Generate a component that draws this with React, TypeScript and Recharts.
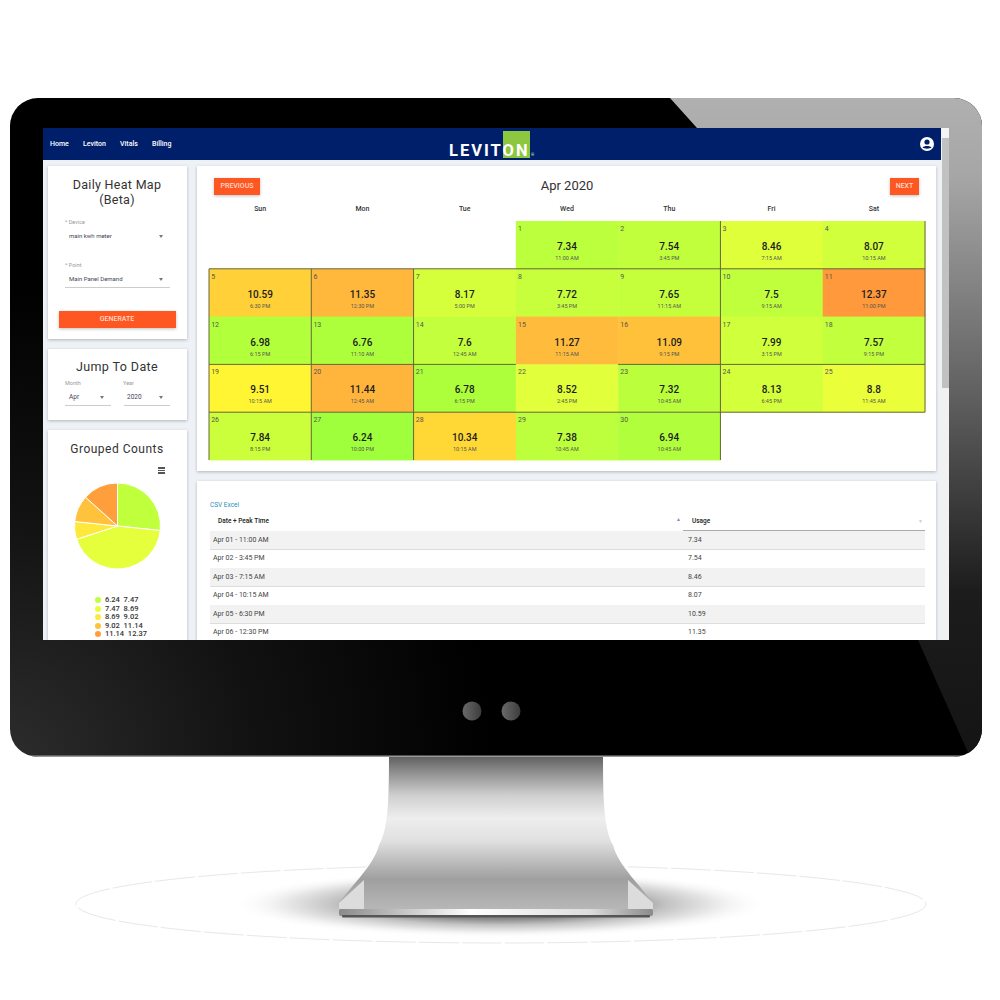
import React from 'react';
import {
  ScatterChart,
  Scatter,
  XAxis,
  YAxis,
  ReferenceLine,
  PieChart,
  Pie,
  Legend,
} from 'recharts';

const weekDays = ['Sun', 'Mon', 'Tue', 'Wed', 'Thu', 'Fri', 'Sat'];
const usage = [
  7.34, 7.54, 8.46, 8.07, 10.59, 11.35, 8.17, 7.72, 7.65, 7.5, 12.37, 6.98, 6.76, 7.6, 11.27,
  11.09, 7.99, 7.57, 9.51, 11.44, 6.78, 8.52, 7.32, 8.13, 8.8, 7.84, 6.24, 10.34, 7.38, 6.94,
];
const peakTimes = [
  '11:00 AM', '3:45 PM', '7:15 AM', '10:15 AM', '6:30 PM', '12:30 PM', '5:00 PM', '3:45 PM',
  '11:15 AM', '9:15 AM', '11:00 PM', '6:15 PM', '11:10 AM', '12:45 AM', '11:15 AM', '9:15 PM',
  '3:15 PM', '9:15 PM', '10:15 AM', '12:45 AM', '6:15 PM', '2:45 PM', '10:45 AM', '6:45 PM',
  '11:45 AM', '8:15 PM', '10:00 PM', '10:15 AM', '10:45 AM', '10:45 AM',
];
const firstWeekday = 3;

const rangeLabels = ['6.24  7.47', '7.47  8.69', '8.69  9.02', '9.02  11.14', '11.14  12.37'];
const rangeCounts = [8, 13, 2, 3, 4];
const rangeColors = ['#c0ff3c', '#e6ff3c', '#ffe83c', '#ffc23c', '#ff9f3c'];

const tableRows = 6;
const navItems = ['Home', 'Leviton', 'Vitals', 'Billing'];

// borders the source calendar happens to draw, in grid units
const gridSegments = [
  [0, 1, 7, 1],
  [0, 3, 3, 3],
  [4, 3, 7, 3],
  [0, 4, 7, 4],
  [0, 1, 0, 5],
  [1, 1, 1, 5],
  [2, 1, 2, 5],
  [5, 0, 5, 5],
  [7, 0, 7, 4],
];

const colorStops: [number, number[]][] = [
  [6.24, [159, 255, 60]],
  [7.5, [192, 255, 60]],
  [8.8, [234, 255, 58]],
  [9.51, [255, 245, 51]],
  [10.34, [255, 216, 54]],
  [11.35, [255, 184, 60]],
  [12.37, [255, 153, 60]],
];

const heatColor = (v: number) => {
  for (let i = 1; i < colorStops.length; i++) {
    const [v0, c0] = colorStops[i - 1];
    const [v1, c1] = colorStops[i];
    if (v <= v1) {
      const t = (v - v0) / (v1 - v0);
      return `rgb(${c0.map((c, k) => Math.round(c + (c1[k] - c) * t)).join(',')})`;
    }
  }
  return 'rgb(255,153,60)';
};

const calendar = usage.map((value, i) => ({
  day: i + 1,
  value,
  time: peakTimes[i],
  col: (i + firstWeekday) % 7 + 0.5,
  row: Math.floor((i + firstWeekday) / 7) + 0.5,
}));

const groups = rangeLabels.map((name, i) => ({ name, count: rangeCounts[i], fill: rangeColors[i] }));

const pad = (n: number) => (n < 10 ? `0${n}` : `${n}`);

const FONT = 'Roboto, sans-serif';
const CELL_W = 102.3;
const CELL_H = 47.8;

const HeatCell = (props: any) => {
  const { cx, cy, payload } = props;
  return (
    <g>
      <rect
        x={cx - CELL_W / 2}
        y={cy - CELL_H / 2}
        width={CELL_W + 0.4}
        height={CELL_H + 0.4}
        fill={heatColor(payload.value)}
      />
      <text x={cx - 49} y={cy - 14} fontSize={7} fill="#555" fontFamily={FONT}>
        {payload.day}
      </text>
      <text x={cx} y={cy + 5} fontSize={10} fontWeight={500} fill="#1c1c1c" textAnchor="middle" fontFamily={FONT}>
        {payload.value}
      </text>
      <text x={cx} y={cy + 15} fontSize={5.5} fill="#555" textAnchor="middle" fontFamily={FONT}>
        {payload.time}
      </text>
    </g>
  );
};

const Txt = ({ x, y, size = 7, color = '#333', center, weight, spacing, children }: any) => (
  <div
    style={{
      position: 'absolute',
      left: x,
      top: y,
      transform: `translate(${center ? '-50%' : '0'}, -50%)`,
      fontSize: size,
      color,
      fontWeight: weight,
      letterSpacing: spacing,
      whiteSpace: 'nowrap',
      lineHeight: 1,
    }}
  >
    {children}
  </div>
);

const Box = ({ x, y, w, h, bg = '#fff', shadow, children }: any) => (
  <div
    style={{
      position: 'absolute',
      left: x,
      top: y,
      width: w,
      height: h,
      background: bg,
      boxShadow: shadow ? '0 1px 3px rgba(0,0,0,0.25)' : undefined,
    }}
  >
    {children}
  </div>
);

const Caret = ({ x, y }: any) => (
  <div
    style={{
      position: 'absolute',
      left: x - 2.5,
      top: y - 1,
      width: 0,
      height: 0,
      borderLeft: '2.5px solid transparent',
      borderRight: '2.5px solid transparent',
      borderTop: '3px solid #777',
    }}
  />
);

const Monitor = () => (
  <svg width={1000} height={1000} style={{ position: 'absolute', left: 0, top: 0 }}>
    <defs>
      <radialGradient id="bezel" gradientUnits="userSpaceOnUse" cx={10} cy={757} r={480}>
        <stop offset="0" stopColor="#2c2c2c" />
        <stop offset="0.5" stopColor="#121212" />
        <stop offset="1" stopColor="#000" />
      </radialGradient>
      <linearGradient id="wedge" gradientUnits="userSpaceOnUse" x1={0} y1={98} x2={0} y2={757}>
        <stop offset="0" stopColor="#b0b0b0" />
        <stop offset="0.12" stopColor="#a6a6a6" />
        <stop offset="0.45" stopColor="#606060" />
        <stop offset="0.75" stopColor="#1c1c1c" />
        <stop offset="1" stopColor="#141414" />
      </linearGradient>
      <linearGradient id="neck" x1="0" y1="0" x2="0" y2="1">
        <stop offset="0" stopColor="#616161" />
        <stop offset="0.1" stopColor="#8f8f8f" />
        <stop offset="0.25" stopColor="#cfcfcf" />
        <stop offset="0.4" stopColor="#eeeeee" />
        <stop offset="0.55" stopColor="#e0e0e0" />
        <stop offset="0.68" stopColor="#bdbdbd" />
        <stop offset="0.8" stopColor="#9f9f9f" />
        <stop offset="1" stopColor="#b8b8b8" />
      </linearGradient>
      <linearGradient id="base" x1="0" y1="0" x2="1" y2="0">
        <stop offset="0" stopColor="#8a8a8a" />
        <stop offset="0.2" stopColor="#c4c4c4" />
        <stop offset="0.42" stopColor="#ffffff" />
        <stop offset="0.8" stopColor="#dcdcdc" />
        <stop offset="1" stopColor="#8a8a8a" />
      </linearGradient>
      <radialGradient id="floor">
        <stop offset="0" stopColor="#666" />
        <stop offset="0.45" stopColor="#8c8c8c" />
        <stop offset="0.62" stopColor="#c4c4c4" />
        <stop offset="0.82" stopColor="#eeeeee" />
        <stop offset="1" stopColor="#fff" stopOpacity="0" />
      </radialGradient>
      <linearGradient id="button" x1="0" y1="0" x2="1" y2="0">
        <stop offset="0" stopColor="#6a6a6a" />
        <stop offset="1" stopColor="#3c3c3c" />
      </linearGradient>
      <clipPath id="bezelClip">
        <rect x={10} y={98} width={972} height={659} rx={28} />
      </clipPath>
    </defs>
    <ellipse cx={501} cy={904} rx={425} ry={39} fill="none" stroke="#ddd" strokeWidth={0.7} strokeDasharray="40 3" />
    <ellipse cx={500} cy={904} rx={270} ry={34} fill="url(#floor)" />
    <path
      d="M389 757 H603 C603 800 604 830 613 845 C618 865 640 885 653 903 L653 910 H339 L339 903 C352 885 374 865 379 845 C388 830 389 800 389 757 Z"
      fill="url(#neck)"
    />
    <path d="M364 880 L339 903 V909 H364 Z" fill="#dcdcdc" />
    <path d="M628 880 L653 903 V909 H628 Z" fill="#dcdcdc" />
    <rect x={339} y={909} width={314} height={7} rx={2} fill="url(#base)" />
    <rect x={342} y={915} width={308} height={2.5} rx={1} fill="#555" />
    <g clipPath="url(#bezelClip)">
      <rect x={10} y={98} width={972} height={659} fill="url(#bezel)" />
      <polygon points="670,98 982,98 982,757 970,757 918,640 697,128" fill="url(#wedge)" />
      <rect x={10} y={755.5} width={972} height={1.5} fill="#999" />
    </g>
    <circle cx={472} cy={711} r={9.5} fill="url(#button)" />
    <circle cx={511} cy={711} r={9.5} fill="url(#button)" />
  </svg>
);

const Heatmap = () => (
  <div style={{ position: 'absolute', left: 207, top: 201 }}>
    <ScatterChart width={722} height={261} margin={{ top: 0, right: 4, bottom: 2, left: 2 }}>
      <XAxis
        xAxisId={0}
        type="number"
        dataKey="col"
        orientation="top"
        height={20}
        domain={[0, 7]}
        ticks={weekDays.map((_, i) => i + 0.5)}
        tickFormatter={(v: number) => weekDays[Math.floor(v)]}
        tickLine={false}
        axisLine={false}
        interval={0}
        dy={-2}
        tick={{ fontSize: 7, fontWeight: 500, fill: '#333', fontFamily: FONT }}
      />
      <YAxis yAxisId={0} type="number" dataKey="row" domain={[0, 5]} reversed hide width={0} />
      <Scatter data={calendar} shape={<HeatCell />} isAnimationActive={false} />
      {gridSegments.map(([x1, y1, x2, y2], i) => (
        <ReferenceLine
          key={i}
          segment={[
            { x: x1, y: y1 },
            { x: x2, y: y2 },
          ]}
          stroke="#66663e"
          strokeWidth={1}
          ifOverflow="visible"
          zIndex={700}
        />
      ))}
    </ScatterChart>
  </div>
);

const GroupedPie = () => (
  <div style={{ position: 'absolute', left: 48, top: 466 }}>
    <PieChart width={140} height={180} margin={{ top: 0, right: 0, bottom: 0, left: 0 }}>
      <Pie
        data={groups}
        dataKey="count"
        nameKey="name"
        cx={69.5}
        cy={60}
        outerRadius={43}
        startAngle={90}
        endAngle={-270}
        stroke="#fff"
        strokeWidth={1}
        isAnimationActive={false}
      />
      <Legend
        layout="vertical"
        align="center"
        verticalAlign="middle"
        iconType="circle"
        iconSize={6}
        itemSorter={null}
        wrapperStyle={{ left: 47, top: 130, width: 90, fontSize: 7.5, lineHeight: '8.6px', fontWeight: 500 }}
        formatter={(v: string) => <span style={{ color: '#333', whiteSpace: 'pre' }}>{v}</span>}
      />
    </PieChart>
  </div>
);

export default function App() {
  return (
    <div
      style={{
        position: 'absolute',
        left: 0,
        top: 0,
        width: 1000,
        height: 1000,
        background: '#fff',
        overflow: 'hidden',
        fontFamily: FONT,
      }}
    >
      <Monitor />
      <div style={{ position: 'absolute', left: 43, top: 128, width: 906, height: 512, overflow: 'hidden', background: '#eef1f5' }}>
        <div style={{ position: 'absolute', left: -43, top: -128, width: 1000, height: 1000 }}>
          {/* navbar */}
          <Box x={43} y={128} w={898} h={32} bg="#001f6b" />
          {navItems.map((n, i) => (
            <Txt key={n} x={[50, 83, 120, 152][i]} y={144} size={7} color="#fff" weight={500}>
              {n}
            </Txt>
          ))}
          <Box x={503} y={131} w={27} h={27} bg="#8dc63f" />
          <Txt x={449} y={151} size={16.5} color="#fff" weight={700} spacing={2}>
            LEVITON
          </Txt>
          <Txt x={531} y={155} size={4} color="#dfe">
            ®
          </Txt>
          <svg width={16} height={16} style={{ position: 'absolute', left: 919, top: 136 }} viewBox="0 0 16 16">
            <circle cx={8} cy={8} r={7} fill="#fff" />
            <circle cx={8} cy={6} r={2.6} fill="#001f6b" />
            <path d="M3.5 11.5 C5 9.5 11 9.5 12.5 11.5 C11 13 5 13 3.5 11.5 Z" fill="#001f6b" />
          </svg>

          {/* scrollbar */}
          <Box x={941} y={128} w={8} h={512} bg="#f1f1f1" />
          <Box x={942} y={138} w={7} h={250} bg="#c1c1c1" />
          <Box x={942} y={128} w={7} h={9} bg="#f4f4f4" />

          {/* side cards */}
          <Box x={48} y={166} w={139} h={173} shadow />
          <Txt x={117} y={185} size={12.5} color="#333" center spacing={0.3}>
            Daily Heat Map
          </Txt>
          <Txt x={117} y={200} size={12.5} color="#333" center spacing={0.3}>
            (Beta)
          </Txt>
          <Txt x={65} y={223} size={5.5} color="#999">
            * Device
          </Txt>
          <Txt x={69} y={236} size={6} color="#445">
            main kwh meter
          </Txt>
          <Caret x={161} y={236} />
          <Txt x={65} y={266} size={5.5} color="#999">
            * Point
          </Txt>
          <Txt x={69} y={279} size={6} color="#445">
            Main Panel Demand
          </Txt>
          <Caret x={161} y={279} />
          <Box x={65} y={287} w={105} h={1} bg="#ccc" />
          <Box x={59} y={311} w={117} h={17} bg="#ff5722" shadow />
          <Txt x={117} y={319} size={7} color="#ffd9c8" center weight={500}>
            GENERATE
          </Txt>

          <Box x={48} y={349} w={139} h={71} shadow />
          <Txt x={117} y={367} size={12.5} color="#333" center spacing={0.4}>
            Jump To Date
          </Txt>
          <Txt x={65} y={384} size={5.5} color="#999">
            Month
          </Txt>
          <Txt x={123} y={384} size={5.5} color="#999">
            Year
          </Txt>
          <Txt x={69} y={397} size={6.5} color="#445">
            Apr
          </Txt>
          <Txt x={127} y={397} size={6.5} color="#445">
            2020
          </Txt>
          <Caret x={102} y={397} />
          <Caret x={161} y={397} />
          <Box x={65} y={405} w={46} h={1} bg="#ccc" />
          <Box x={124} y={405} w={46} h={1} bg="#ccc" />

          <Box x={48} y={430} w={139} h={220} shadow />
          <Txt x={117} y={449} size={12} color="#333" center spacing={0.5}>
            Grouped Counts
          </Txt>
          <Box x={158} y={467} w={7} h={1.5} bg="#555" />
          <Box x={158} y={469.5} w={7} h={1.5} bg="#555" />
          <Box x={158} y={472} w={7} h={1.5} bg="#555" />
          <GroupedPie />

          {/* calendar card */}
          <Box x={197} y={166} w={739} h={305} shadow />
          <Box x={214} y={178} w={46} h={17} bg="#ff5722" shadow />
          <Txt x={237} y={186} size={7} color="#ffd9c8" center weight={500}>
            PREVIOUS
          </Txt>
          <Box x={890} y={178} w={29} h={17} bg="#ff5722" shadow />
          <Txt x={904.5} y={186} size={7} color="#ffd9c8" center weight={500}>
            NEXT
          </Txt>
          <Txt x={567} y={185} size={13} color="#333" center>
            Apr 2020
          </Txt>
          <Heatmap />

          {/* table card */}
          <Box x={197} y={481} w={739} h={170} shadow />
          <Txt x={210} y={505} size={6.5} color="#2a8fc0">
            CSV Excel
          </Txt>
          <Txt x={218} y={521} size={6.5} color="#222" weight={500}>
            Date + Peak Time
          </Txt>
          <Txt x={692} y={521} size={6.5} color="#222" weight={500}>
            Usage
          </Txt>
          <Txt x={676} y={519} size={5} color="#8a8ac0">
            ▲
          </Txt>
          <Txt x={918} y={521} size={5} color="#ccc">
            ▼
          </Txt>
          {usage.slice(0, tableRows).map((v, i) => (
            <React.Fragment key={i}>
              <Box x={210} y={531 + i * 18.6} w={715} h={18} bg={i % 2 === 0 ? '#f2f2f2' : '#fff'} />
              <Box x={210} y={549 + i * 18.6} w={715} h={0.7} bg="#ddd" />
              <Txt x={213} y={539.5 + i * 18.5} size={7} color="#444">
                {`Apr ${pad(i + 1)} - ${peakTimes[i]}`}
              </Txt>
              <Txt x={688} y={539.5 + i * 18.5} size={7} color="#444">
                {v}
              </Txt>
            </React.Fragment>
          ))}
          <Box x={683} y={530} w={242} h={0.7} bg="#aaa" />
        </div>
      </div>
    </div>
  );
}
